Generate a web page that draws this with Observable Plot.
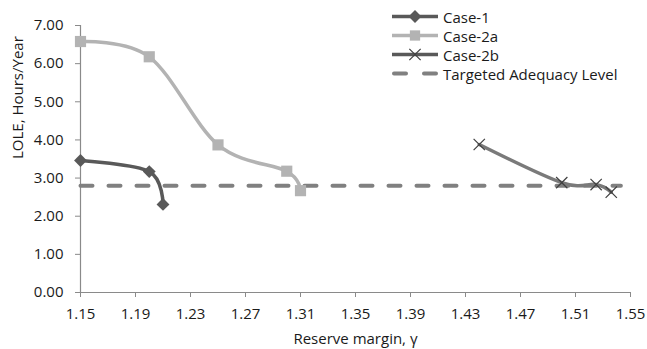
<!DOCTYPE html>
<html>
<head>
<meta charset="utf-8">
<script src="https://cdn.jsdelivr.net/npm/d3@7"></script>
<script src="https://cdn.jsdelivr.net/npm/@observablehq/plot@0.6"></script>
<style>
  html, body { margin: 0; padding: 0; background: #fff; }
  #chart { position: relative; width: 647px; height: 349px; font-family: "Open Sans", Lato, sans-serif; }
  #legend { position: absolute; left: 392px; top: 7px; font-size: 15px; color: #1a1a1a; }
  #legend .row { display: flex; align-items: center; height: 19px; }
  #legend svg { margin-right: 5px; }
</style>
</head>
<body>
<div id="chart"></div>
<script>
// Reserve margin (γ) vs. LOLE for each case
const case1X = [1.15, 1.20, 1.21];
const case1Y = [3.46, 3.17, 2.31];

const case2aX = [1.15, 1.20, 1.25, 1.30, 1.31];
const case2aY = [6.58, 6.18, 3.87, 3.18, 2.67];

const case2bX = [1.44, 1.50, 1.525, 1.536];
const case2bY = [3.88, 2.88, 2.83, 2.63];

const targetX = [1.15, 1.543];
const targetY = [2.8, 2.8];

const xTicks = [1.15, 1.19, 1.23, 1.27, 1.31, 1.35, 1.39, 1.43, 1.47, 1.51, 1.55];
const yTicks = [0, 1, 2, 3, 4, 5, 6, 7];

const seriesNames = ["Case-1", "Case-2a", "Case-2b", "Targeted Adequacy Level"];

const toRows = (xs, ys) => xs.map((x, i) => ({x, y: ys[i]}));
const case1 = toRows(case1X, case1Y);
const case2a = toRows(case2aX, case2aY);
const case2b = toRows(case2bX, case2bY);
const target = toRows(targetX, targetY);

const axisGray = "#8a8a8a";
const c1 = "#595959", c2a = "#b3b3b3", c2bLine = "#7a7a7a", c2bMark = "#404040", cTarget = "#808080";

const plot = Plot.plot({
  width: 647,
  height: 349,
  marginLeft: 80,
  marginRight: 17,
  marginTop: 25,
  marginBottom: 57,
  style: {fontFamily: "'Open Sans', Lato, sans-serif", fontSize: "15px", color: "#1a1a1a", background: "#fff"},
  x: {domain: [1.15, 1.55]},
  y: {domain: [0, 7]},
  marks: [
    Plot.ruleX([1.15], {stroke: axisGray, strokeWidth: 1.2}),
    Plot.ruleY([0], {stroke: axisGray, strokeWidth: 1.2}),
    Plot.axisX({ticks: xTicks, tickFormat: d => d.toFixed(2), tickSize: 5, tickPadding: 11, stroke: axisGray, label: null}),
    Plot.axisY({ticks: yTicks, tickFormat: d => d.toFixed(2), tickSize: 5, tickPadding: 12, stroke: axisGray, label: null}),
    Plot.text(["Reserve margin, γ"], {frameAnchor: "bottom", dy: 51, fontSize: 15}),
    Plot.text(["LOLE, Hours/Year"], {frameAnchor: "left", dx: -62, rotate: -90, fontSize: 15}),
    // targeted adequacy level
    Plot.line(target, {x: "x", y: "y", stroke: cTarget, strokeWidth: 4, strokeDasharray: "12,16", strokeLinecap: "round"}),
    // case lines
    Plot.line(case1, {x: "x", y: "y", stroke: c1, strokeWidth: 3.5, curve: "cardinal", tension: 0}),
    Plot.line(case2a, {x: "x", y: "y", stroke: c2a, strokeWidth: 3.5, curve: "cardinal", tension: 0}),
    Plot.line(case2b, {x: "x", y: "y", stroke: c2bLine, strokeWidth: 3.5, curve: "cardinal", tension: 0}),
    // markers
    Plot.dot(case1, {x: "x", y: "y", symbol: "diamond2", r: 5.8, fill: c1}),
    Plot.dot(case2a, {x: "x", y: "y", symbol: "square", r: 6.3, fill: c2a}),
    Plot.dot(case2b, {x: "x", y: "y", symbol: "times", r: 5.2, stroke: c2bMark, strokeWidth: 1.2})
  ]
});

const chart = document.getElementById("chart");
chart.appendChild(plot);

// legend
const legend = document.createElement("div");
legend.id = "legend";
const swatches = [
  {line: c1, dash: null, marker: "diamond", color: c1},
  {line: c2a, dash: null, marker: "square", color: c2a},
  {line: "#595959", dash: null, marker: "times", color: c2bMark},
  {line: cTarget, dash: "12,16", marker: null}
];
seriesNames.forEach((name, i) => {
  const s = swatches[i];
  const row = document.createElement("div");
  row.className = "row";
  const ns = "http://www.w3.org/2000/svg";
  const svg = document.createElementNS(ns, "svg");
  svg.setAttribute("width", 46);
  svg.setAttribute("height", 19);
  const ln = document.createElementNS(ns, "line");
  ln.setAttribute("x1", s.dash ? 2 : 0);
  ln.setAttribute("x2", s.dash ? 44 : 46);
  ln.setAttribute("y1", 9.5);
  ln.setAttribute("y2", 9.5);
  ln.setAttribute("stroke", s.line);
  ln.setAttribute("stroke-width", s.dash ? 4 : 3.5);
  if (s.dash) { ln.setAttribute("stroke-dasharray", "12,18"); ln.setAttribute("stroke-linecap", "round"); }
  svg.appendChild(ln);
  if (s.marker) {
    const p = document.createElementNS(ns, "path");
    const sym = {diamond: d3.symbolDiamond2, square: d3.symbolSquare, times: d3.symbolTimes}[s.marker];
    const size = s.marker === "times" ? Math.PI * 5.2 * 5.2 : Math.PI * 5.8 * 5.8;
    p.setAttribute("d", d3.symbol(sym, size)());
    p.setAttribute("transform", "translate(23,9.5)");
    if (s.marker === "times") { p.setAttribute("fill", "none"); p.setAttribute("stroke", s.color); p.setAttribute("stroke-width", 1.2); }
    else p.setAttribute("fill", s.color);
    svg.appendChild(p);
  }
  row.appendChild(svg);
  const label = document.createElement("span");
  label.textContent = name;
  row.appendChild(label);
  legend.appendChild(row);
});
chart.appendChild(legend);
</script>
</body>
</html>
